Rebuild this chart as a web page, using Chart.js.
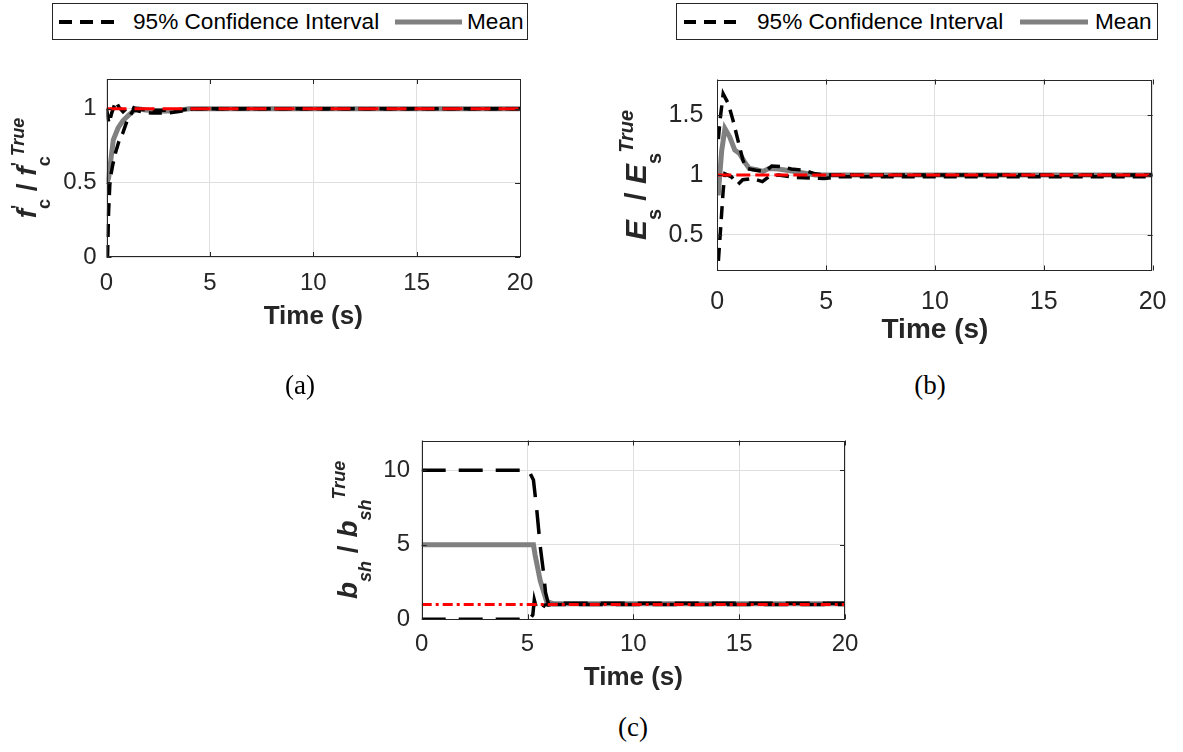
<!DOCTYPE html>
<html>
<head>
<meta charset="utf-8">
<script src="https://cdn.jsdelivr.net/npm/chart.js@4.4.0/dist/chart.umd.min.js"></script>
<style>
  body { margin: 0; background: #fff; width: 1183px; height: 752px; position: relative; overflow: hidden;
         font-family: "Liberation Sans", Arial, sans-serif; }
  canvas { position: absolute; }
  .legend { position: absolute; top: 3px; height: 37px; border: 1px solid #262626; box-sizing: border-box;
            background: #fff; font-size: 22.6px; color: #000; }
  .legend span, .legend svg { position: absolute; }
  .legend span { top: 0; line-height: 35px; white-space: nowrap; }
  .cap { position: absolute; font-family: "Liberation Serif", "Times New Roman", serif; font-size: 27px;
         transform: translate(-50%, -50%); white-space: nowrap; color: #000; }
</style>
</head>
<body>

<div class="legend" style="left:52px;width:476px">
  <svg style="left:6px;top:10px" width="60" height="16"><line x1="0" y1="8" x2="56" y2="8" stroke="#000" stroke-width="4" stroke-dasharray="13 8"/></svg>
  <span style="left:80px">95% Confidence Interval</span>
  <svg style="left:342px;top:10px" width="68" height="16"><line x1="0" y1="8" x2="67" y2="8" stroke="#808080" stroke-width="5"/></svg>
  <span style="left:414px">Mean</span>
</div>
<div class="legend" style="left:676px;width:482px">
  <svg style="left:7px;top:10px" width="60" height="16"><line x1="0" y1="8" x2="52" y2="8" stroke="#000" stroke-width="4" stroke-dasharray="12 8"/></svg>
  <span style="left:80px">95% Confidence Interval</span>
  <svg style="left:343px;top:10px" width="70" height="16"><line x1="0" y1="8" x2="68" y2="8" stroke="#808080" stroke-width="5"/></svg>
  <span style="left:418px">Mean</span>
</div>

<canvas id="chartA" width="545" height="300" style="left:0;top:40px"></canvas>
<canvas id="chartB" width="593" height="310" style="left:590px;top:40px"></canvas>
<canvas id="chartC" width="580" height="300" style="left:300px;top:400px"></canvas>

<div class="cap" style="left:300px;top:385px">(a)</div>
<div class="cap" style="left:930px;top:385px">(b)</div>
<div class="cap" style="left:633px;top:727px">(c)</div>

<script>
// tick labels
const timeTicks = [0, 5, 10, 15, 20];
const fcTicks = [0, 0.5, 1];
const esTicks = [0.5, 1, 1.5];
const bshTicks = [0, 5, 10];

// reference (true value ratio)
const refT = [0, 20];
const refV = [1, 1];

// (a) f'c ratio
const fcMeanT = [0, 0.1, 0.33, 0.56, 0.8, 1.1, 1.45, 2.0, 2.3, 3.0, 3.5, 4.0, 20];
const fcMeanV = [0.5, 0.53, 0.79, 0.87, 0.92, 0.96, 1.0, 0.99, 0.983, 0.985, 0.99, 1.0, 1.0];
const fcUpT = [0, 0.12, 0.25, 0.45, 0.6, 0.8, 1.1, 1.4, 2.0, 3.5, 4.2, 20];
const fcUpV = [1.0, 0.9, 0.97, 1.05, 1.01, 0.98, 1.02, 1.0, 0.99, 0.99, 1.0, 1.0];
const fcLoT = [0, 0.05, 0.1, 0.17, 0.3, 0.45, 0.6, 0.8, 1.0, 1.3, 1.7, 2.2, 3.0, 3.5, 4.2, 20];
const fcLoV = [0, 0, 0.3, 0.52, 0.62, 0.71, 0.78, 0.84, 0.92, 0.99, 0.98, 0.97, 0.972, 0.98, 1.0, 1.0];

// (b) Es ratio
const esMeanT = [0, 0.05, 0.2, 0.35, 0.57, 0.8, 1.02, 1.25, 1.47, 1.8, 2.1, 2.37, 2.8, 3.57, 4.5, 20];
const esMeanV = [0.85, 0.85, 1.2, 1.39, 1.32, 1.21, 1.18, 1.11, 1.055, 1.045, 1.03, 1.055, 1.05, 1.03, 1.0, 1.0];
const esUpT = [0.05, 0.12, 0.27, 0.5, 0.72, 0.95, 1.17, 1.32, 1.77, 2.2, 2.5, 2.97, 3.4, 4.0, 4.5, 5.0, 20];
const esUpV = [1.3, 1.45, 1.68, 1.6, 1.46, 1.29, 1.13, 1.055, 1.04, 1.03, 1.075, 1.07, 1.05, 1.04, 1.01, 1.0, 1.0];
const esLoT = [0.05, 0.2, 0.27, 0.35, 0.65, 0.95, 1.17, 1.62, 2.07, 2.37, 2.8, 3.55, 4.93, 5.5, 20];
const esLoV = [0.28, 0.68, 0.87, 1.01, 0.985, 0.92, 0.96, 0.97, 0.945, 0.985, 1.0, 0.98, 0.97, 0.985, 0.985];

// (c) bsh ratio
const bshMeanT = [0, 5.28, 5.36, 5.6, 5.9, 6.2, 20];
const bshMeanV = [5, 5, 4.3, 2.6, 1.2, 1.05, 1.05];
const bshUpT = [0, 5.05, 5.28, 5.44, 5.6, 5.76, 5.85, 6.0, 6.5, 20];
const bshUpV = [10, 10, 9.35, 7.3, 4.9, 3.1, 1.8, 0.96, 1.08, 1.08];
const bshLoT = [0, 5.1, 5.25, 5.32, 5.45, 5.6, 5.8, 6.0, 20];
const bshLoV = [0, 0, 0.3, 1.3, 0.6, 0.5, 0.95, 1.0, 1.0];

const FONT = '"Liberation Sans", Arial, sans-serif';
const AXIS = '#262626';
const GRID = '#dfdfdf';

function pts(ts, vs) {
  return ts.map((t, i) => ({ x: t, y: vs[i] }));
}

function drawRich(ctx, parts, bx, cy) {
  let total = 0;
  parts.forEach((p) => {
    ctx.font = p.font;
    p.w = ctx.measureText(p.t).width;
    if (!p.stack) total += p.w;
  });
  ctx.save();
  ctx.translate(bx, cy);
  ctx.rotate(-Math.PI / 2);
  ctx.fillStyle = AXIS;
  ctx.textBaseline = 'alphabetic';
  let cx = -total / 2;
  parts.forEach((p) => {
    ctx.font = p.font;
    ctx.fillText(p.t, cx, p.dy || 0);
    if (!p.stack) cx += p.w;
  });
  ctx.restore();
}

const framePlugin = {
  id: 'frame',
  afterDatasetsDraw(chart, args, opts) {
    const { ctx, chartArea: a, scales } = chart;
    ctx.save();
    ctx.strokeStyle = AXIS;
    ctx.lineWidth = 1;
    ctx.strokeRect(Math.round(a.left) + 0.5, Math.round(a.top) + 0.5,
      Math.round(a.right - a.left) - 1, Math.round(a.bottom - a.top) - 1);
    const tl = 5;
    ctx.beginPath();
    scales.x.ticks.forEach((t) => {
      const px = Math.round(scales.x.getPixelForValue(t.value)) + 0.5;
      ctx.moveTo(px, a.bottom); ctx.lineTo(px, a.bottom - tl);
      ctx.moveTo(px, a.top); ctx.lineTo(px, a.top + tl);
    });
    scales.y.ticks.forEach((t) => {
      const py = Math.round(scales.y.getPixelForValue(t.value)) + 0.5;
      ctx.moveTo(a.left, py); ctx.lineTo(a.left + tl, py);
      ctx.moveTo(a.right, py); ctx.lineTo(a.right - tl, py);
    });
    ctx.stroke();
    ctx.restore();
    drawRich(ctx, opts.label, opts.bx, (a.top + a.bottom) / 2);
  },
};

function makeDatasets(meanT, meanV, upT, upV, loT, loV, ciDash, refDash) {
  const base = { pointRadius: 0, fill: false, tension: 0, borderCapStyle: 'butt' };
  return [
    { ...base, label: 'True', data: pts(refT, refV), borderColor: '#ff0000', borderWidth: 3, borderDash: refDash },
    { ...base, label: '95% Confidence Interval', data: pts(upT, upV), borderColor: '#000', borderWidth: 3.5, borderDash: ciDash },
    { ...base, label: '95% Confidence Interval', data: pts(loT, loV), borderColor: '#000', borderWidth: 3.5, borderDash: ciDash },
    { ...base, label: 'Mean', data: pts(meanT, meanV), borderColor: '#808080', borderWidth: 5 },
  ];
}

function panelOptions(p) {
  return {
    responsive: false,
    animation: false,
    devicePixelRatio: 1,
    layout: { padding: { left: 0, right: p.padR, top: p.padT, bottom: 0 } },
    plugins: {
      legend: { display: false },
      tooltip: { enabled: false },
      frame: { label: p.label, bx: p.bx },
    },
    scales: {
      x: {
        type: 'linear', min: 0, max: 20,
        afterFit: (s) => { s.height = p.xH; },
        afterBuildTicks: (s) => { s.ticks = timeTicks.map((v) => ({ value: v })); },
        grid: { color: GRID, drawTicks: false },
        border: { display: false },
        ticks: { font: { family: FONT, size: p.tick }, color: AXIS, padding: p.xPad, maxRotation: 0,
                 autoSkip: false, callback: (v) => String(v) },
        title: { display: true, text: 'Time (s)', color: AXIS,
                 font: { family: FONT, size: p.title, weight: 'bold' }, padding: { top: 0, bottom: p.titleB } },
      },
      y: {
        type: 'linear', min: p.ymin, max: p.ymax,
        afterFit: (s) => { s.width = p.yW; },
        afterBuildTicks: (s) => { s.ticks = p.yTicks.map((v) => ({ value: v })); },
        grid: { color: GRID, drawTicks: false },
        border: { display: false },
        ticks: { font: { family: FONT, size: p.tick }, color: AXIS, padding: p.yPad, autoSkip: false,
                 callback: (v) => String(v) },
      },
    },
  };
}

function richLabel(main, sub, subItalic, prime, size, sup) {
  const big = `italic bold ${size}px ${FONT}`;
  const small = Math.round(size * 0.65);
  const subFont = `${subItalic ? 'italic ' : ''}bold ${small}px ${FONT}`;
  const supFont = `italic bold ${small}px ${FONT}`;
  const dSub = Math.round(size * 0.5);
  const dSup = -Math.round(size * 0.43);
  const out = [];
  [0, 1].forEach((k) => {
    out.push({ t: main, font: big });
    if (prime) out.push({ t: "'", font: `bold ${small}px ${FONT}`, dy: dSup, stack: true });
    out.push({ t: sub, font: subFont, dy: dSub });
    if (k === 0) out.push({ t: ' / ', font: `bold ${size}px ${FONT}` });
  });
  out.push({ t: sup, font: supFont, dy: dSup });
  return out;
}

new Chart(document.getElementById('chartA'), {
  type: 'line',
  data: { datasets: makeDatasets(fcMeanT, fcMeanV, fcUpT, fcUpV, fcLoT, fcLoV, [13, 8], [20, 8]) },
  options: panelOptions({
    padR: 20.5, padT: 39, xH: 83, yW: 106.5, tick: 24, title: 26, xPad: 11.6, titleB: 8, yPad: 10,
    ymin: 0, ymax: 1.2, yTicks: fcTicks, bx: 36, label: richLabel('f', 'c', false, true, 28, 'True'),
  }),
  plugins: [framePlugin],
});

new Chart(document.getElementById('chartB'), {
  type: 'line',
  data: { datasets: makeDatasets(esMeanT, esMeanV, esUpT, esUpV, esLoT, esLoV, [13, 8], [14, 5]) },
  options: panelOptions({
    padR: 21.3, padT: 39.5, xH: 79.5, yW: 127.3, tick: 25, title: 28, xPad: 16.5, titleB: 3, yPad: 14,
    ymin: 0.2, ymax: 1.8, yTicks: esTicks, bx: 56, label: richLabel('E', 's', false, false, 30, 'True'),
  }),
  plugins: [framePlugin],
});

new Chart(document.getElementById('chartC'), {
  type: 'line',
  data: { datasets: makeDatasets(bshMeanT, bshMeanV, bshUpT, bshUpV, bshLoT, bshLoV, [24, 13], [10, 4, 3, 4]) },
  options: panelOptions({
    padR: 35, padT: 40.5, xH: 80.7, yW: 121.7, tick: 24, title: 26, xPad: 10.3, titleB: 7, yPad: 11.7,
    ymin: 0, ymax: 12, yTicks: bshTicks, bx: 57, label: richLabel('b', 'sh', true, false, 28, 'True'),
  }),
  plugins: [framePlugin],
});
</script>
</body>
</html>
